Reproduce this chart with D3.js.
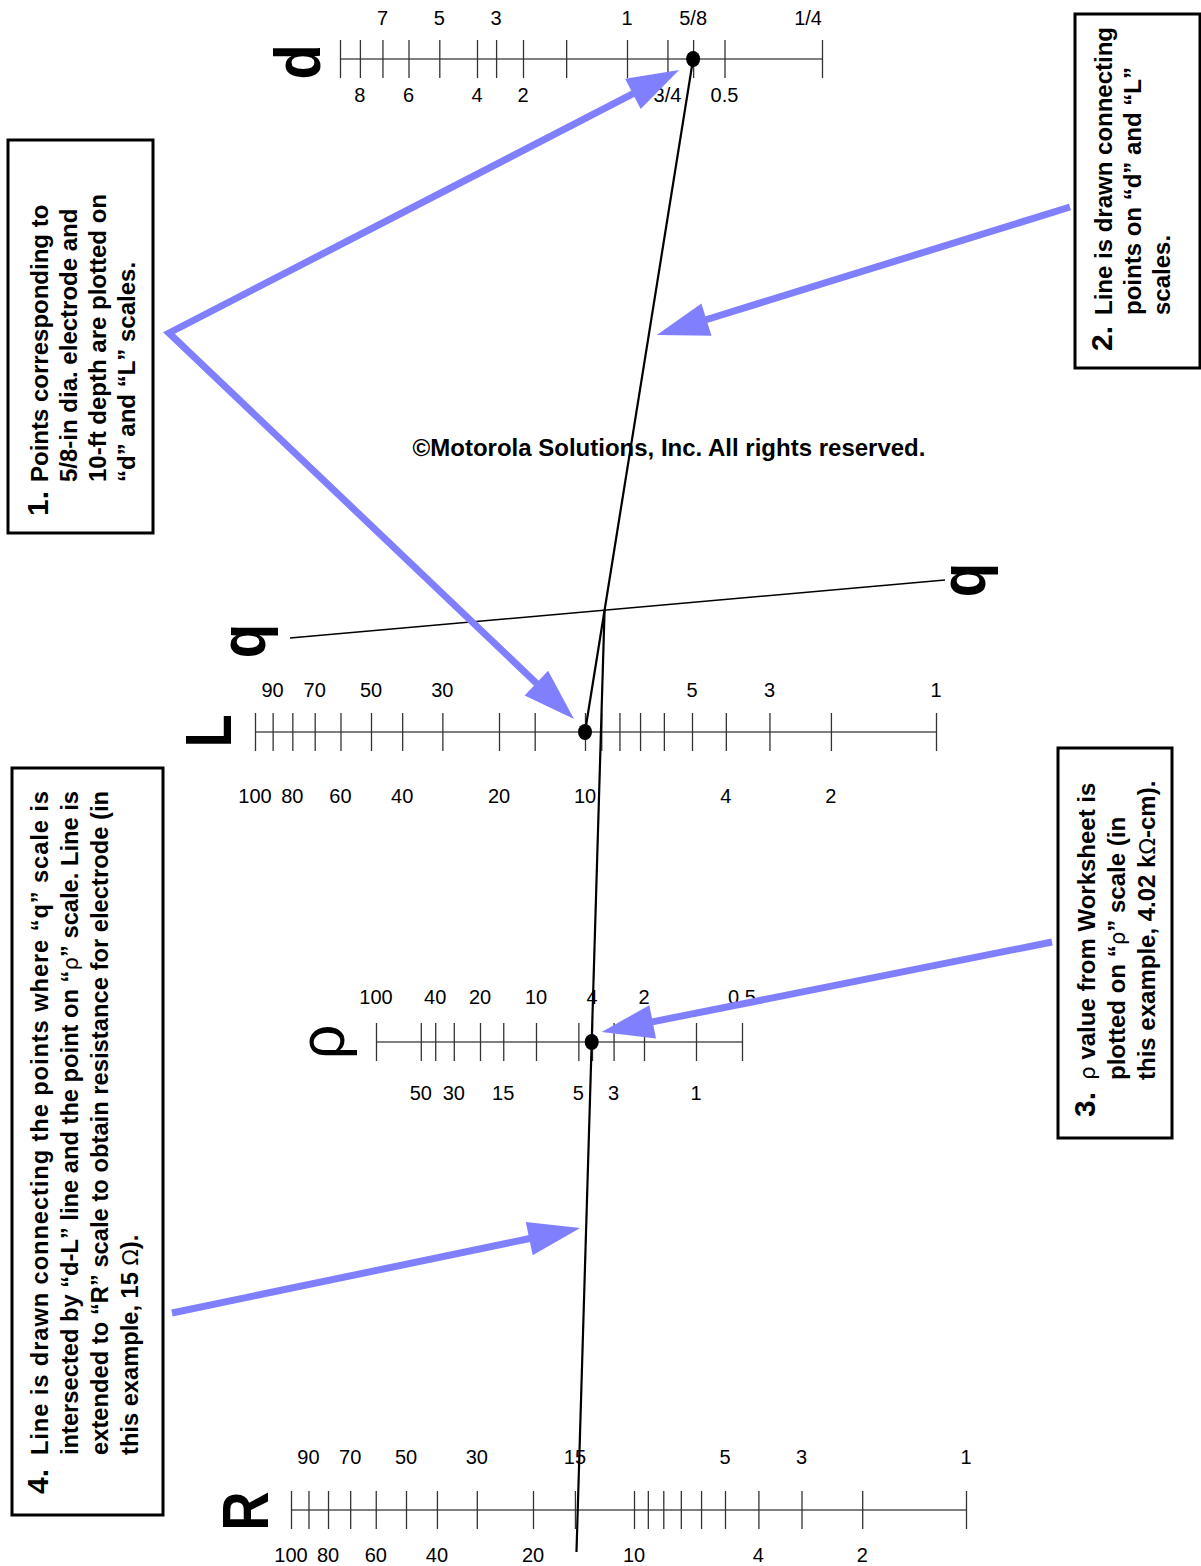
<!DOCTYPE html>
<html><head><meta charset="utf-8">
<script src="https://cdn.jsdelivr.net/npm/d3@7"></script>
<style>
body{margin:0;background:#fff}
svg{display:block}
text{font-family:"Liberation Sans",Arial,Helvetica,sans-serif}
</style>
</head><body>
<svg id="c" width="1201" height="1566"></svg>
<script>
// ---------------- data ----------------
const dTicks = [9, 8, 7, 6, 5, 4, 3, 2, 1.5, 1, 0.75, 0.625, 0.5, 0.25];
const dTopValues = [7, 5, 3, 1, 0.625, 0.25];
const dTopLabels = ["7", "5", "3", "1", "5/8", "1/4"];
const dBottomValues = [8, 6, 4, 2, 0.75, 0.5];
const dBottomLabels = ["8", "6", "4", "2", "3/4", "0.5"];

const lTicks = [100, 90, 80, 70, 60, 50, 40, 30, 20, 15, 10, 9, 8, 7, 6, 5, 4, 3, 2, 1];
const lTopValues = [90, 70, 50, 30, 5, 3, 1];
const lBottomValues = [100, 80, 60, 40, 20, 10, 4, 2];

const rhoTicks = [100, 50, 40, 30, 20, 15, 10, 5, 4, 3, 2, 1, 0.5];
const rhoTopValues = [100, 40, 20, 10, 4, 2, 0.5];
const rhoBottomValues = [50, 30, 15, 5, 3, 1];

const rTicks = [100, 90, 80, 70, 60, 50, 40, 30, 20, 15, 10, 9, 8, 7, 6, 5, 4, 3, 2, 1];
const rTopValues = [90, 70, 50, 30, 15, 5, 3, 1];
const rBottomValues = [100, 80, 60, 40, 20, 10, 4, 2];

// worked example
const exampleD = 0.625;    // in
const exampleL = 10;       // ft
const exampleRho = 4.02;   // kOhm-cm

const titleText = "©Motorola Solutions, Inc. All rights reserved.";
const box1Lines = ["Points corresponding to", "5/8-in dia. electrode and", "10-ft depth are plotted on", "“d” and “L” scales."];
const box2Lines = ["Line is drawn connecting", "points on “d” and “L”", "scales."];
const box3Lines = [[{s:"ρ"}, " value from Worksheet is"], ["plotted on “", {s:"ρ"}, "” scale (in"], ["this example, 4.02 k", {s:"Ω"}, "-cm)."]];
const box4Lines = ["Line is drawn connecting the points where “q” scale is",
  ["intersected by “d-L” line and the point on “", {s:"ρ"}, "” scale. Line is"],
  "extended to “R” scale to obtain resistance for electrode (in",
  ["this example, 15 ", {s:"Ω"}, ")."]];

// ---------------- scales (nomograph scales, piecewise logarithmic) ----------------
const dScale = d3.scaleLog().domain([9, 4, 2, 1, 0.25]).range([340, 477, 523, 627, 822]);
const lScale = d3.scaleLog().domain([100, 50, 20, 10, 5, 1]).range([255, 371, 499, 585, 692, 936]);
const rhoScale = d3.scaleLog().domain([100, 20, 10, 4, 1, 0.5]).range([376, 480, 536, 592, 696, 742]);
const rScale = d3.scaleLog().domain([100, 50, 20, 10, 5, 1]).range([291, 406, 533, 634, 725, 966]);

const yD = 59, yL = 732, yRho = 1042, yR = 1510;
const qA = [290, 638], qB = [945, 580];

const svg = d3.select("#c");
const blue = "#8080ff";

// ---------------- boxes ----------------
function addSegments(t, segs) {
  if (typeof segs === "string") segs = [segs];
  segs.forEach(s => {
    if (typeof s === "string") t.append("tspan").text(s);
    else t.append("tspan").attr("font-weight", "normal").attr("font-family", "'DejaVu Sans',sans-serif").attr("font-size", "0.9em").text(s.s);
  });
}
const boxes = [
  {rect:[8,140,145,393], baseX:48, startY:482, numY:516, gap:29, num:"1.", lines:box1Lines},
  {rect:[1075,14,125,354], baseX:1112, startY:315, numY:351, gap:29, num:"2.", lines:box2Lines},
  {rect:[1058,748,114,390], baseX:1095, startY:1080, numY:1117, gap:30, num:"3.", lines:box3Lines},
  {rect:[12,768,151,747], baseX:48, startY:1455, numY:1494, gap:30, num:"4.", lines:box4Lines, fit:664}
];
boxes.forEach(b => {
  svg.append("rect").attr("x", b.rect[0]).attr("y", b.rect[1]).attr("width", b.rect[2]).attr("height", b.rect[3])
    .attr("fill", "#fff").attr("stroke", "#000").attr("stroke-width", 3);
  const g = svg.append("g").attr("transform", `translate(${b.baseX},${b.startY}) rotate(-90)`);
  g.append("text").attr("x", b.startY - b.numY).attr("y", 0).attr("font-size", 30).attr("font-weight", "bold").text(b.num);
  const inner = g.append("g");
  const ts = b.lines.map((ln, i) => {
    const t = inner.append("text").attr("x", 0).attr("y", i * b.gap).attr("font-size", 24).attr("font-weight", "bold");
    addSegments(t, ln);
    return t;
  });
  if (b.fit) {
    const widths = ts.map(t => t.node().getComputedTextLength());
    const k = b.fit / d3.max(widths);
    inner.attr("transform", `scale(${k},1)`);
    ts.slice(0, -1).forEach(t => t.attr("textLength", b.fit / k).attr("lengthAdjust", "spacing"));
  }
});

// ---------------- title ----------------
svg.append("text").attr("x", 669).attr("y", 456).attr("text-anchor", "middle")
  .attr("font-size", 24).attr("font-weight", "bold").text(titleText);

// ---------------- axes ----------------
const axes = [
  {scale:dScale, y:yD, ticks:dTicks, top:dTopValues, topText:dTopLabels, bot:dBottomValues, botText:dBottomLabels, topDy:-34, botDy:43, endAnchor:true},
  {scale:lScale, y:yL, ticks:lTicks, top:lTopValues, bot:lBottomValues, topDy:-35, botDy:71},
  {scale:rhoScale, y:yRho, ticks:rhoTicks, top:rhoTopValues, bot:rhoBottomValues, topDy:-38, botDy:58},
  {scale:rScale, y:yR, ticks:rTicks, top:rTopValues, bot:rBottomValues, topDy:-46, botDy:52}
];
axes.forEach(a => {
  const g = svg.append("g").attr("transform", `translate(0,${a.y})`);
  const r = a.scale.range();
  const xEnd = r[r.length - 1];
  g.append("line").attr("x1", r[0]).attr("x2", xEnd).attr("stroke", "#000").attr("stroke-width", 1.2);
  [d3.axisBottom, d3.axisTop].forEach(ax => {
    const ag = g.append("g").call(ax(a.scale).tickValues(a.ticks).tickSize(19).tickFormat(() => ""));
    ag.select(".domain").remove();
    ag.selectAll(".tick line").attr("stroke", "#333").attr("stroke-width", 1.3);
  });
  const fmt = (vals, txt) => vals.map((v, i) => ({v, t: txt ? txt[i] : String(v)}));
  const anchor = d => (a.endAnchor && Math.abs(a.scale(d.v) - xEnd) < 1) ? "end" : "middle";
  g.selectAll("text.top").data(fmt(a.top, a.topText)).join("text").attr("class", "top")
    .attr("x", d => a.scale(d.v)).attr("y", a.topDy).attr("text-anchor", anchor).attr("font-size", 20).text(d => d.t);
  g.selectAll("text.bot").data(fmt(a.bot, a.botText)).join("text").attr("class", "bot")
    .attr("x", d => a.scale(d.v)).attr("y", a.botDy).attr("text-anchor", anchor).attr("font-size", 20).text(d => d.t);
});

// ---------------- big scale letters ----------------
function bigLetter(txt, cx, cy, size, dy, opts = {}) {
  svg.append("text").attr("transform", `translate(${cx},${cy}) rotate(-90) scale(${opts.sx || 1},1)`)
    .attr("text-anchor", "middle").attr("dy", dy + "em").attr("font-size", size)
    .attr("font-weight", opts.normal ? "normal" : "bold")
    .attr("font-family", opts.family || null).text(txt);
}
const xAxisStart = s => s.range()[0];
bigLetter("d", xAxisStart(dScale) - 43, yD + 3, 64, 0.365, {sx:0.9});
bigLetter("L", xAxisStart(lScale) - 47, yL - 1, 64, 0.358, {sx:0.85});
bigLetter("ρ", xAxisStart(rhoScale) - 42, yRho, 64, 0.16, {normal:true, family:"'DejaVu Sans',sans-serif", sx:0.95});
bigLetter("R", xAxisStart(rScale) - 46, yR + 1, 64, 0.358, {sx:0.85});
bigLetter("q", qA[0] - 35, qA[1] + 3, 64, 0.155, {sx:0.88});
bigLetter("q", qB[0] + 30, qB[1], 64, 0.155, {sx:0.88});

// ---------------- construction lines ----------------
svg.append("line").attr("x1", qA[0]).attr("y1", qA[1]).attr("x2", qB[0]).attr("y2", qB[1])
  .attr("stroke", "#000").attr("stroke-width", 1.6);

const pD = [dScale(exampleD), yD];
const pL = [lScale(exampleL), yL];
function intersect(p1, p2, p3, p4) {
  const d = (p1[0]-p2[0])*(p3[1]-p4[1]) - (p1[1]-p2[1])*(p3[0]-p4[0]);
  const a = p1[0]*p2[1] - p1[1]*p2[0], b = p3[0]*p4[1] - p3[1]*p4[0];
  return [(a*(p3[0]-p4[0]) - (p1[0]-p2[0])*b)/d, (a*(p3[1]-p4[1]) - (p1[1]-p2[1])*b)/d];
}
const pQ = intersect(pD, pL, qA, qB);
const pRho = [rhoScale(exampleRho), yRho];
const endY = yR + 42;
const tEnd = (endY - pQ[1]) / (pRho[1] - pQ[1]);
const pEnd = [pQ[0] + tEnd * (pRho[0] - pQ[0]), endY];
const lineAt = (p1, p2, y) => p1[0] + (y - p1[1]) / (p2[1] - p1[1]) * (p2[0] - p1[0]);

svg.append("line").attr("x1", pD[0]).attr("y1", pD[1]).attr("x2", pL[0]).attr("y2", pL[1])
  .attr("stroke", "#000").attr("stroke-width", 2.2);
svg.append("line").attr("x1", pQ[0]).attr("y1", pQ[1]).attr("x2", pEnd[0]).attr("y2", pEnd[1])
  .attr("stroke", "#000").attr("stroke-width", 2.2);

[pD, pL, pRho].forEach(p => svg.append("ellipse").attr("cx", p[0]).attr("cy", p[1]).attr("rx", 7).attr("ry", 8).attr("fill", "#000"));

// ---------------- arrows ----------------
const ag = svg.append("g");
function head(tail, tip, len = 52, half = 17) {
  const dx = tip[0]-tail[0], dy = tip[1]-tail[1], L = Math.hypot(dx, dy);
  const ux = dx/L, uy = dy/L, px = -uy, py = ux;
  const base = [tip[0]-ux*len, tip[1]-uy*len];
  ag.append("path").attr("d", `M${tip[0]},${tip[1]}L${base[0]+px*half},${base[1]+py*half}L${base[0]-px*half},${base[1]-py*half}Z`).attr("fill", blue);
  return [base[0]+ux*3, base[1]+uy*3];
}
function arrow(tail, tip) {
  const b = head(tail, tip);
  ag.append("line").attr("x1", tail[0]).attr("y1", tail[1]).attr("x2", b[0]).attr("y2", b[1]).attr("stroke", blue).attr("stroke-width", 7);
}
// arrow 1: V-shaped, to d point and L point
const tail1 = [169, 333];
const tip1a = [pD[0] - 14, pD[1] + 11];
const tip1b = [pL[0] - 11, pL[1] - 13];
const b1a = head(tail1, tip1a), b1b = head(tail1, tip1b);
ag.append("path").attr("d", `M${b1a[0]},${b1a[1]}L${tail1[0]},${tail1[1]}L${b1b[0]},${b1b[1]}`)
  .attr("fill", "none").attr("stroke", blue).attr("stroke-width", 7).attr("stroke-linejoin", "miter").attr("stroke-miterlimit", 10);
// arrow 2: to d-L line
arrow([1070, 207], [lineAt(pD, pL, 335) + 8, 335]);
// arrow 3: to rho point
arrow([1052, 942], [pRho[0] + 10, pRho[1] - 10]);
// arrow 4: to q-rho-R line
arrow([172, 1313], [lineAt(pQ, pEnd, 1228) - 6, 1228]);
</script>
</body></html>
